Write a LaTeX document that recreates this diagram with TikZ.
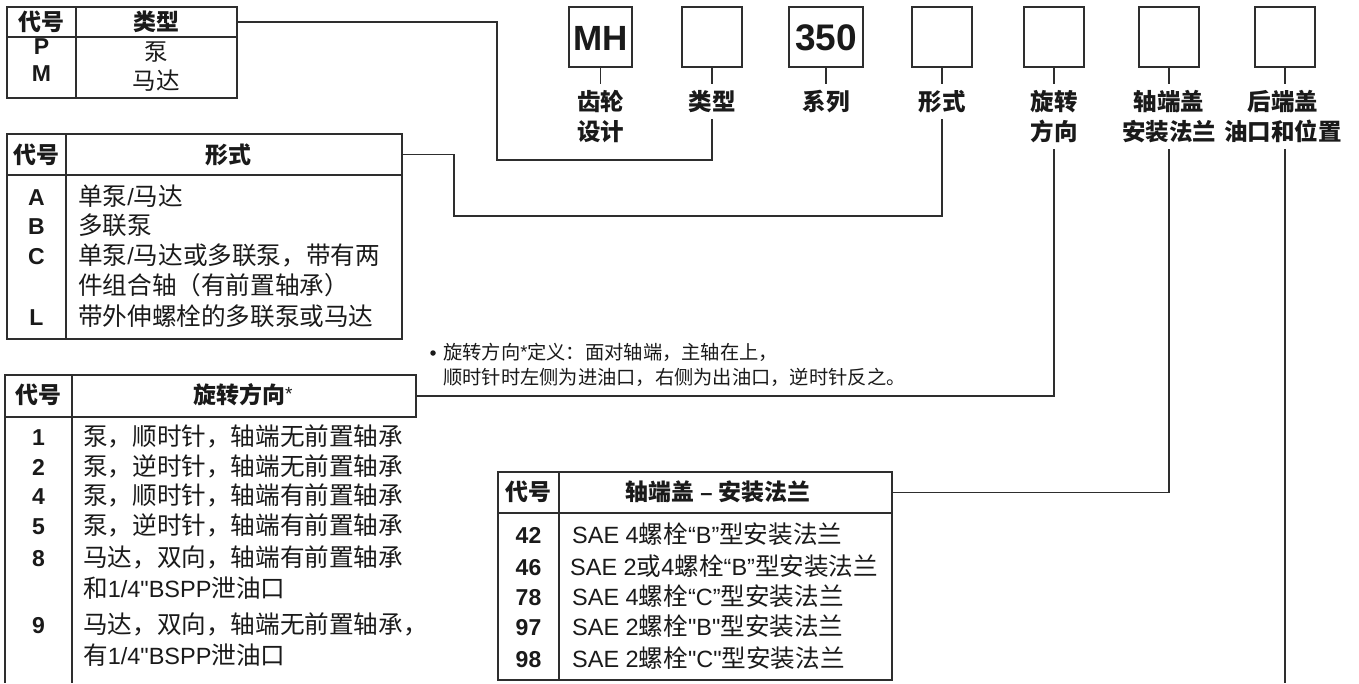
\documentclass[tikz,border=0pt]{standalone}
\usepackage{fontspec}
\setmainfont{Liberation Sans}[Ligatures=TeXOff]
\newfontfamily\cjk[Scale=1.047]{Noto Sans CJK SC}
\newcommand\zh[1]{{\cjk #1}}
\definecolor{lc}{HTML}{2E2E2E}
\definecolor{tc}{HTML}{1A1A1A}
\tikzset{
  box/.style={draw=lc, line width=1.3pt, inner sep=0pt},
  rule/.style={draw=lc, line width=1.3pt},
  conn/.style={draw=lc, line width=1.3pt},
  cell/.style={inner sep=0pt, text=tc},
  code/.style={cell, anchor=base, font=\fontsize{23}{26}\selectfont\bfseries},
  body/.style={cell, anchor=base west, font=\fontsize{23.5}{30}\selectfont},
  head/.style={cell, font=\fontsize{21.9}{26}\selectfont\bfseries},
  lbl/.style={inner xsep=0pt, inner ysep=6pt, anchor=north, align=center, text=tc,
              font=\fontsize{22.45}{30}\selectfont\bfseries\cjk},
  big/.style={cell, font=\fontsize{35}{38}\selectfont\bfseries},
  notefont/.style={cell, anchor=base west, font=\fontsize{18.4}{25}\selectfont},
  dot/.style={circle, fill=tc, inner sep=0pt, minimum size=5.5pt},
}
\begin{document}
\begin{tikzpicture}[x=1pt, y=-1pt]
\useasboundingbox (0,0) rectangle (1359,683);
\fill[white] (0,0) rectangle (1359,683);

% ---------- type table ----------
\node[box, minimum width=230pt, minimum height=30pt] (th) at (122,22) {};
\node[box, minimum width=230pt, minimum height=61pt] (tb) at (122,67.5) {};
\draw[rule] (76,7) -- (76,98);
\node[head] (th1) at (41.5,22) {\zh{代号}};
\node[head] (th2) at (156.5,22) {\zh{类型}};
\node[code, anchor=center] (tc1) at (41.5,46.5) {P};
\node[code, anchor=center] (tc2) at (41.5,74) {M};
\node[cell, font=\fontsize{22.45}{26}\selectfont] (td1) at (156.5,52) {\zh{泵}};
\node[cell, font=\fontsize{22.45}{26}\selectfont] (td2) at (156.5,81) {\zh{马达}};

% ---------- form table ----------
\node[box, minimum width=395pt, minimum height=41pt] (fh) at (204.5,154.5) {};
\node[box, minimum width=395pt, minimum height=164pt] (fb) at (204.5,257) {};
\draw[rule] (66,134) -- (66,339);
\node[head] (fh1) at (36.5,155) {\zh{代号}};
\node[head] (fh2) at (228,155) {\zh{形式}};
\node[code] (fc1) at (36.5,205) {A};
\node[code] (fc2) at (36.5,234) {B};
\node[code] (fc3) at (36.5,264) {C};
\node[code] (fc4) at (36.5,325) {L};
\node[body] (fd1) at (78,205) {\zh{单泵}/\zh{马达}};
\node[body] (fd2) at (78,234) {\zh{多联泵}};
\node[body] (fd3) at (78,264) {\zh{单泵}/\zh{马达或多联泵，带有两}};
\node[body] (fd4) at (78,294) {\zh{件组合轴（有前置轴承）}};
\node[body] (fd5) at (78,325) {\zh{带外伸螺栓的多联泵或马达}};

% ---------- rotation table ----------
\node[box, minimum width=411pt, minimum height=42pt] (rh) at (210.5,396) {};
\draw[rule] (5,417) -- (5,683);
\draw[rule] (72,375) -- (72,683);
\node[head] (rh1) at (38.5,395) {\zh{代号}};
\node[head] (rh2) at (243,395) {\zh{旋转方向}\raisebox{3pt}{\mdseries\fontsize{19}{19}\selectfont *}};
\node[code] (rc1) at (38.5,445) {1};
\node[code] (rc2) at (38.5,475) {2};
\node[code] (rc3) at (38.5,504) {4};
\node[code] (rc4) at (38.5,534) {5};
\node[code] (rc5) at (38.5,566) {8};
\node[code] (rc6) at (38.5,633) {9};
\node[body] (rd1) at (83,445) {\zh{泵，顺时针，轴端无前置轴承}};
\node[body] (rd2) at (83,475) {\zh{泵，逆时针，轴端无前置轴承}};
\node[body] (rd3) at (83,504) {\zh{泵，顺时针，轴端有前置轴承}};
\node[body] (rd4) at (83,534) {\zh{泵，逆时针，轴端有前置轴承}};
\node[body] (rd5) at (83,566) {\zh{马达，双向，轴端有前置轴承}};
\node[body] (rd6) at (83,597) {\zh{和}1/4"BSPP\zh{泄油口}};
\node[body] (rd7) at (83,633) {\zh{马达，双向，轴端无前置轴承，}};
\node[body] (rd8) at (83,664) {\zh{有}1/4"BSPP\zh{泄油口}};

% ---------- note ----------
\node[dot] (nb) at (433,353) {};
\node[notefont] (n1) at (443,359) {\zh{旋转方向}\raisebox{1pt}{*}\zh{定义：面对轴端，主轴在上，}};
\node[notefont] (n2) at (443,384) {\zh{顺时针时左侧为进油口，右侧为出油口，逆时针反之。}};

% ---------- flange table ----------
\node[box, minimum width=394pt, minimum height=41pt] (lh) at (695,492.5) {};
\node[box, minimum width=394pt, minimum height=167pt] (lb) at (695,596.5) {};
\draw[rule] (559,472) -- (559,680);
\node[head] (lh1) at (528.5,492) {\zh{代号}};
\node[head] (lh2) at (718,492) {\zh{轴端盖} – \zh{安装法兰}};
\node[code] (lc1) at (528.5,543) {42};
\node[code] (lc2) at (528.5,575) {46};
\node[code] (lc3) at (528.5,605) {78};
\node[code] (lc4) at (528.5,635) {97};
\node[code] (lc5) at (528.5,667) {98};
\node[body] (ld1) at (572,543) {SAE 4\zh{螺栓}“B”\zh{型安装法兰}};
\node[body] (ld2) at (570,575) {SAE 2\zh{或}4\zh{螺栓}“B”\zh{型安装法兰}};
\node[body] (ld3) at (572,605) {SAE 4\zh{螺栓}“C”\zh{型安装法兰}};
\node[body] (ld4) at (572,635) {SAE 2\zh{螺栓}"B"\zh{型安装法兰}};
\node[body] (ld5) at (572,667) {SAE 2\zh{螺栓}"C"\zh{型安装法兰}};

% ---------- top code boxes ----------
\node[box, minimum width=63pt, minimum height=60pt] (bMH) at (600.5,37) {};
\node[big] (tMH) at (600.5,38) {MH};
\node[box, minimum width=60pt, minimum height=60pt] (bType) at (712,37) {};
\node[box, minimum width=74pt, minimum height=60pt] (bSer) at (826,37) {};
\node[big, font=\fontsize{37}{40}\selectfont\bfseries] (tSer) at (826,38) {350};
\node[box, minimum width=60pt, minimum height=60pt] (bForm) at (942,37) {};
\node[box, minimum width=60pt, minimum height=60pt] (bRot) at (1054,37) {};
\node[box, minimum width=60pt, minimum height=60pt] (bFl) at (1169,37) {};
\node[box, minimum width=60pt, minimum height=60pt] (bRear) at (1285,37) {};

% ---------- labels ----------
\node[lbl] (lMH) at (600.5,84) {齿轮\\设计};
\node[lbl] (lType) at (712,84) {类型};
\node[lbl] (lSer) at (826,84) {系列};
\node[lbl] (lForm) at (942,84) {形式};
\node[lbl] (lRot) at (1054,84) {旋转\\方向};
\node[lbl] (lFl) at (1169,84) {轴端盖\\安装法兰};
\node[lbl] (lRear) at (1283,84) {后端盖\\油口和位置};

% ticks
\draw[conn] (bMH.south) -- (lMH.north);
\draw[conn] (bType.south) -- (lType.north);
\draw[conn] (bSer.south) -- (lSer.north);
\draw[conn] (bForm.south) -- (lForm.north);
\draw[conn] (bRot.south) -- (lRot.north);
\draw[conn] (bFl.south) -- (lFl.north);
\draw[conn] (bRear.south) -- (bRear.south |- lRear.north);

% ---------- connectors ----------
\coordinate (j1) at (497,160);
\draw[conn] (th.east) -| (j1) -| (lType.south);
\coordinate (j2) at (454,216);
\draw[conn] (fh.east) -| (j2) -| (lForm.south);
\draw[conn] (rh.east) -| (lRot.south);
\draw[conn] (lh.east) -| (lFl.south);
\coordinate (rEnd) at (1285,683);
\draw[conn] (rEnd |- lRear.south) -- (rEnd);
\end{tikzpicture}
\end{document}
